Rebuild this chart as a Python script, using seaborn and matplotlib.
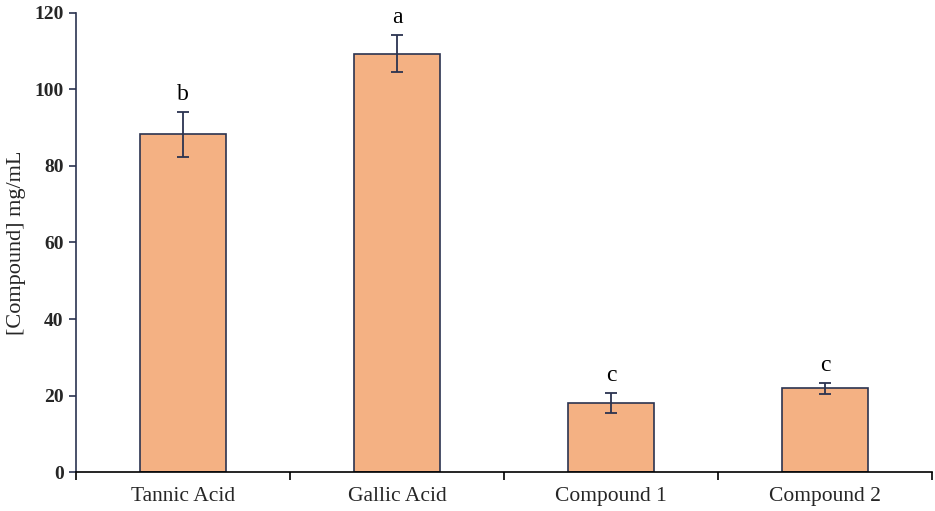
import matplotlib
matplotlib.use("Agg")
import matplotlib.pyplot as plt
import seaborn as sns
import pandas as pd
import numpy as np

# values
compounds = ["Tannic Acid", "Gallic Acid", "Compound 1", "Compound 2"]
conc = [88.3, 109.4, 18.1, 21.9]
err = [5.9, 4.8, 2.6, 1.4]
letters = ["b", "a", "c", "c"]

df = pd.DataFrame({"compound": compounds, "conc": conc, "err": err})

sns.set_style("white")
plt.rcParams['font.family'] = ['Liberation Serif', 'DejaVu Serif']

navy = "#2b3350"
fig = plt.figure(figsize=(9.35, 5.11), dpi=100)
ax = fig.add_axes([0.0813, 0.0763, 0.9155, 0.8983])

sns.barplot(data=df, x="compound", y="conc", color="#F4B183", saturation=1,
            width=0.4, edgecolor=navy, linewidth=1.2, errorbar=None, ax=ax)

ax.errorbar(np.arange(len(compounds)), df["conc"], yerr=df["err"], fmt="none",
            ecolor=navy, elinewidth=1.3, capsize=4, capthick=1.3)

for i, (v, e, l) in enumerate(zip(conc, err, letters)):
    ax.text(i, v + e + 1.8, l, ha="center", va="bottom", fontsize=17, color="black")

ax.set_xlim(-0.5, len(compounds) - 0.5)
ax.set_ylim(0, 120)
ax.set_yticks(range(0, 121, 20))
for t in ax.get_yticklabels():
    t.set_fontweight("bold")
ax.tick_params(axis="y", labelsize=14, direction="out", length=5, width=1.2, color=navy, left=True, pad=4)
ax.set_xticks(np.arange(-0.5, len(compounds)), minor=True)
ax.tick_params(axis="x", which="major", length=0, labelsize=15.5, pad=11)
ax.tick_params(axis="x", which="minor", direction="out", length=6, width=1.2, color="black", bottom=True)

ax.set_xlabel("")
ax.set_ylabel("[Compound] mg/mL", fontsize=16, labelpad=6)

sns.despine(ax=ax)
ax.spines["left"].set_color(navy)
ax.spines["left"].set_linewidth(1.2)
ax.spines["bottom"].set_color("black")
ax.spines["bottom"].set_linewidth(1.2)

fig.savefig("out.png", dpi=100)
